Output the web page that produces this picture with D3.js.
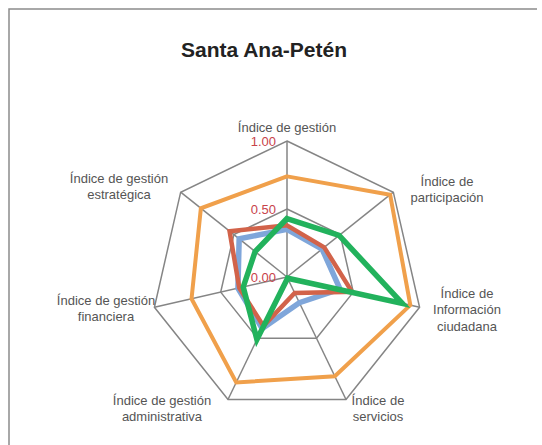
<!DOCTYPE html>
<html>
<head>
<meta charset="utf-8">
<script src="https://d3js.org/d3.v7.min.js"></script>
<style>
  body { margin: 0; background: #fff; }
  text { font-family: "Liberation Sans", Arial, sans-serif; }
</style>
</head>
<body>
<svg id="chart" width="542" height="445"></svg>
<script>
// axes, clockwise from the top
var categories = [
  ["Índice de gestión"],
  ["Índice de", "participación"],
  ["Índice de", "Información", "ciudadana"],
  ["Índice de", "servicios"],
  ["Índice de gestión", "administrativa"],
  ["Índice de gestión", "financiera"],
  ["Índice de gestión", "estratégica"]
];

var orangeValues = [0.74, 0.97, 0.93, 0.81, 0.86, 0.72, 0.81];
var blueValues   = [0.35, 0.33, 0.40, 0.21, 0.42, 0.37, 0.45];
var redValues    = [0.38, 0.35, 0.49, 0.13, 0.40, 0.36, 0.54];
var greenValues  = [0.43, 0.49, 0.87, 0.01, 0.51, 0.33, 0.30];

var ringTicks = [0, 0.5, 1];
var tickLabels = ["0.00", "0.50", "1.00"];

var series = [
  { values: orangeValues, color: "#f0a04b", width: 4 },
  { values: blueValues,   color: "#7fa6da", width: 5.5 },
  { values: redValues,    color: "#d2634a", width: 4.5 },
  { values: greenValues,  color: "#22b25c", width: 5.5 }
];

var svg = d3.select("#chart");
var cx = 287, cy = 277;

// frame (only top and left edges show inside the picture)
svg.append("path")
  .attr("d", "M9,445 L9,9 L537,9")
  .attr("fill", "none")
  .attr("stroke", "#8c8c8c")
  .attr("stroke-width", 1.5);

svg.append("text")
  .attr("x", 264)
  .attr("y", 57)
  .attr("text-anchor", "middle")
  .style("font-size", "21px")
  .style("font-weight", "bold")
  .style("fill", "#222")
  .text("Santa Ana-Petén");

var r = d3.scaleLinear().domain([0, 1]).range([0, 136]);
var angle = d3.scalePoint()
  .domain(d3.range(categories.length))
  .range([0, 2 * Math.PI * (categories.length - 1) / categories.length]);

function pt(i, v) {
  var a = angle(i);
  return [cx + Math.sin(a) * r(v), cy - Math.cos(a) * r(v)];
}

var g = svg.append("g");

// rings
ringTicks.filter(function(t) { return t > 0; }).forEach(function(t) {
  g.append("path")
    .attr("d", d3.line()(categories.map(function(c, i) { return pt(i, t); })) + "Z")
    .attr("fill", "none")
    .attr("stroke", "#858585")
    .attr("stroke-width", 1.5);
});

// spokes
categories.forEach(function(c, i) {
  var p = pt(i, 1);
  g.append("line")
    .attr("x1", cx).attr("y1", cy)
    .attr("x2", p[0]).attr("y2", p[1])
    .attr("stroke", "#858585")
    .attr("stroke-width", 1.5);
});

// series
var line = d3.line().curve(d3.curveLinearClosed);
series.forEach(function(s) {
  g.append("path")
    .attr("d", line(s.values.map(function(v, i) { return pt(i, v); })))
    .attr("fill", "none")
    .attr("stroke", s.color)
    .attr("stroke-width", s.width)
    .attr("stroke-linejoin", "miter");
});

// tick labels
ringTicks.forEach(function(t, k) {
  g.append("text")
    .attr("x", cx - 11)
    .attr("y", cy - r(t))
    .attr("dy", "0.35em")
    .attr("text-anchor", "end")
    .style("font-size", "13px")
    .style("fill", "#c8434a")
    .text(tickLabels[k]);
});

// category labels
var labelPos = [
  [287, 127], [447, 181], [467, 293], [378, 400],
  [162, 400], [106, 300], [119, 178]
];
categories.forEach(function(lines, i) {
  var t = g.append("text")
    .attr("x", labelPos[i][0])
    .attr("y", labelPos[i][1])
    .attr("text-anchor", "middle")
    .style("font-size", "13px")
    .style("fill", "#555");
  lines.forEach(function(s, j) {
    t.append("tspan")
      .attr("x", labelPos[i][0])
      .attr("dy", j == 0 ? "0.35em" : "1.3em")
      .text(s);
  });
});
</script>
</body>
</html>
